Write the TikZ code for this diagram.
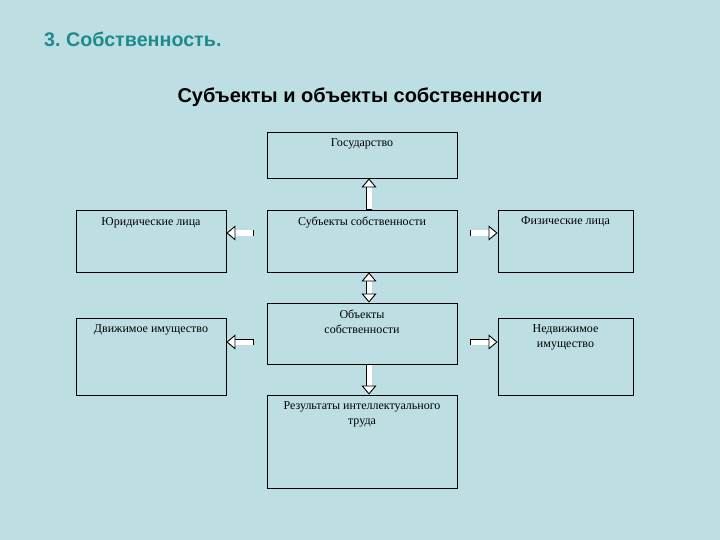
\documentclass[tikz,border=0pt]{standalone}
\usepackage{fontspec}
\setmainfont{Liberation Serif}
\setsansfont{Liberation Sans}
\usetikzlibrary{arrows.meta}
\definecolor{slidebg}{HTML}{BDDFE4}
\definecolor{titleteal}{HTML}{1F8A8C}
\frenchspacing

\begin{document}
\begin{tikzpicture}[x=1pt, y=-1pt, every node/.style={font=\fontsize{12}{15}\selectfont}, box/.style={draw, line width=0.9pt, inner sep=0pt, minimum width=#1}, box/.default=190pt, txt/.style={anchor=north, align=center, yshift=-4pt}, blk/.style={double=white, double distance=5pt, line width=0.9pt, {Bar[width=6.8pt, line width=0.9pt]}-{Triangle[open, fill=white, length=9pt, width=15pt]}}, dblk/.style={double=white, double distance=5pt, line width=0.9pt, {Triangle[open, fill=white, length=9pt, width=15pt]}-{Triangle[open, fill=white, length=9pt, width=15pt]}}]
\fill[slidebg] (0,0) rectangle (720,540);
\node[anchor=base west, inner sep=0pt, font=\sffamily\bfseries\fontsize{19.7}{23}\selectfont, text=titleteal] (title) at (44,47) {3. Собственность.};
\node[anchor=base, font=\sffamily\bfseries\fontsize{20}{24}\selectfont] (head) at (360,103) {Субъекты и объекты собственности};
% centre column
\node[box, minimum height=46pt, label={[txt]north:Государство}] (state) at (362,155) {};
\node[box, minimum height=62pt, label={[txt]north:Субъекты собственности}] (subj) at (362,241) {};
\node[box, minimum height=61pt, label={[txt]north:Объекты\\собственности}] (obj) at (362,333.5) {};
\node[box, minimum height=93pt, label={[txt]north:Результаты интеллектуального\\труда}] (res) at (362,441.5) {};
% side boxes
\node[box=150pt, minimum height=62pt, label={[txt]north:Юридические лица}] (legal) at (151,241) {};
\node[box=135pt, minimum height=62pt, label={[txt]north:Физические лица}] (phys) at (565.5,241) {};
\node[box=150pt, minimum height=77pt, label={[txt]north:Движимое имущество}] (movable) at (151,356.5) {};
\node[box=135pt, minimum height=77pt, label={[txt]north:Недвижимое\\имущество}] (immov) at (565.5,356.5) {};
% arrows
\draw[blk] ([xshift=7pt]subj.north) -- ([xshift=7pt]state.south);
\draw[dblk] ([xshift=7pt]subj.south) -- ([xshift=7pt]obj.north);
\draw[blk] ([xshift=7pt]obj.south) -- ([xshift=7pt]res.north);
\draw[blk] ([xshift=-13pt,yshift=8pt]subj.west) -- ([yshift=8pt]legal.east);
\draw[blk] ([xshift=13pt,yshift=8pt]subj.east) -- ([yshift=8pt]phys.west);
\draw[blk] ([xshift=-13pt,yshift=-8.5pt]obj.west) -- ([yshift=-8.5pt]obj.west -| movable.east);
\draw[blk] ([xshift=13pt,yshift=-8.5pt]obj.east) -- ([yshift=-8.5pt]obj.east -| immov.west);
\end{tikzpicture}
\end{document}
